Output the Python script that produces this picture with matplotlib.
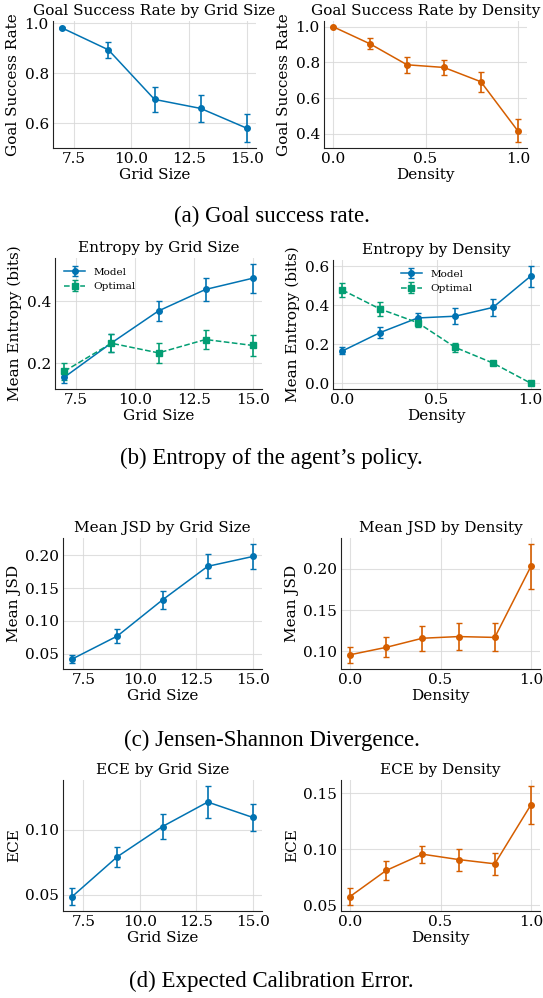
import matplotlib

matplotlib.use("Agg")

import matplotlib.pyplot as plt

# x values
grid_sizes = [7, 9, 11, 13, 15]
densities = [0.0, 0.2, 0.4, 0.6, 0.8, 1.0]

# (a) goal success rate
success_grid = [0.980, 0.893, 0.695, 0.659, 0.580]
success_grid_err = [0.005, 0.031, 0.050, 0.053, 0.056]
success_dens = [1.000, 0.904, 0.787, 0.772, 0.692, 0.417]
success_dens_err = [0.0, 0.031, 0.044, 0.044, 0.055, 0.064]

# (b) entropy, model vs optimal
ent_grid_model = [0.156, 0.266, 0.369, 0.438, 0.474]
ent_grid_model_err = [0.019, 0.030, 0.033, 0.038, 0.046]
ent_grid_opt = [0.175, 0.265, 0.234, 0.277, 0.258]
ent_grid_opt_err = [0.027, 0.029, 0.031, 0.032, 0.033]
ent_dens_model = [0.165, 0.259, 0.334, 0.343, 0.388, 0.548]
ent_dens_model_err = [0.018, 0.027, 0.027, 0.041, 0.045, 0.053]
ent_dens_opt = [0.477, 0.380, 0.310, 0.183, 0.103, 0.0]
ent_dens_opt_err = [0.035, 0.034, 0.020, 0.021, 0.012, 0.0]

# (c) Jensen-Shannon divergence
jsd_grid = [0.042, 0.077, 0.132, 0.183, 0.198]
jsd_grid_err = [0.006, 0.010, 0.014, 0.018, 0.019]
jsd_dens = [0.096, 0.105, 0.116, 0.118, 0.117, 0.203]
jsd_dens_err = [0.010, 0.012, 0.015, 0.016, 0.017, 0.027]

# (d) expected calibration error
ece_grid = [0.0487, 0.0792, 0.1023, 0.121, 0.1092]
ece_grid_err = [0.0064, 0.0076, 0.0092, 0.0123, 0.0105]
ece_dens = [0.058, 0.0813, 0.0958, 0.091, 0.0872, 0.1399]
ece_dens_err = [0.0076, 0.0082, 0.0077, 0.0098, 0.0098, 0.0168]

captions = [
    "(a) Goal success rate.",
    "(b) Entropy of the agent\u2019s policy.",
    "(c) Jensen-Shannon Divergence.",
    "(d) Expected Calibration Error.",
]

BLUE = "#0173b2"
ORANGE = "#d55e00"
GREEN = "#029e73"

W, H = 543, 998
plt.rcParams["font.family"] = "DejaVu Serif"
plt.rcParams["font.size"] = 11

fig = plt.figure(figsize=(W / 100, H / 100), dpi=100)


def add_ax(left, right, top, bottom):
    ax = fig.add_axes([left / W, 1 - bottom / H, (right - left) / W, (bottom - top) / H])
    ax.spines["top"].set_visible(False)
    ax.spines["right"].set_visible(False)
    ax.spines["left"].set_color("#222222")
    ax.spines["bottom"].set_color("#222222")
    ax.grid(True, color="#d8d8d8", linewidth=0.8, alpha=0.8)
    ax.set_axisbelow(True)
    ax.tick_params(labelsize=11, length=0, pad=3)
    return ax


def series(ax, x, y, err, color, marker="o", ls="-", label=None):
    ax.errorbar(x, y, yerr=err, color=color, ecolor=color, marker=marker,
                markersize=4, linestyle=ls, linewidth=1.1, elinewidth=1.2,
                capsize=2.5, capthick=1.0, label=label)


def finish(ax, title, xlabel, ylabel):
    ax.set_title(title, fontsize=11, pad=4)
    ax.set_xlabel(xlabel, fontsize=11, labelpad=1)
    ax.set_ylabel(ylabel, fontsize=11, labelpad=3)


# (a)
ax = add_ax(53, 256, 21, 148)
series(ax, grid_sizes, success_grid, success_grid_err, BLUE)
finish(ax, "Goal Success Rate by Grid Size", "Grid Size", "Goal Success Rate")
ax = add_ax(324, 527, 21, 148)
series(ax, densities, success_dens, success_dens_err, ORANGE)
finish(ax, "Goal Success Rate by Density", "Density", "Goal Success Rate")

# (b)
ax = add_ax(55, 262, 258, 389)
series(ax, grid_sizes, ent_grid_model, ent_grid_model_err, BLUE, label="Model")
series(ax, grid_sizes, ent_grid_opt, ent_grid_opt_err, GREEN, marker="s", ls="--", label="Optimal")
finish(ax, "Entropy by Grid Size", "Grid Size", "Mean Entropy (bits)")
ax.legend(loc="upper left", frameon=False, fontsize=7.5)
ax = add_ax(333, 540, 260, 389)
series(ax, densities, ent_dens_model, ent_dens_model_err, BLUE, label="Model")
series(ax, densities, ent_dens_opt, ent_dens_opt_err, GREEN, marker="s", ls="--", label="Optimal")
finish(ax, "Entropy by Density", "Density", "Mean Entropy (bits)")
ax.legend(loc="upper center", frameon=False, fontsize=7.5)

# (c)
ax = add_ax(63, 262, 538, 669)
series(ax, grid_sizes, jsd_grid, jsd_grid_err, BLUE)
finish(ax, "Mean JSD by Grid Size", "Grid Size", "Mean JSD")
ax = add_ax(341, 540, 538, 669)
series(ax, densities, jsd_dens, jsd_dens_err, ORANGE)
finish(ax, "Mean JSD by Density", "Density", "Mean JSD")

# (d)
ax = add_ax(63, 262, 780, 911)
series(ax, grid_sizes, ece_grid, ece_grid_err, BLUE)
finish(ax, "ECE by Grid Size", "Grid Size", "ECE")
ax = add_ax(341, 540, 780, 911)
series(ax, densities, ece_dens, ece_dens_err, ORANGE)
finish(ax, "ECE by Density", "Density", "ECE")

for cap, y in zip(captions, [216, 458, 740, 981]):
    fig.text(0.5, 1 - y / H, cap, ha="center", va="center",
             fontsize=16.5, family="Liberation Serif")

fig.savefig("out.png", dpi=100)
